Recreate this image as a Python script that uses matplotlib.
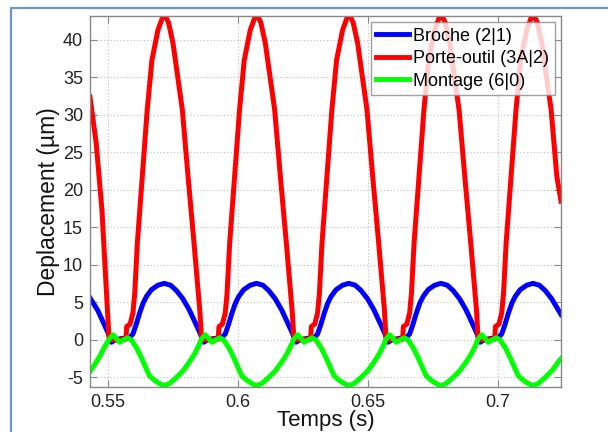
import matplotlib
matplotlib.use("Agg")
import matplotlib.pyplot as plt
from matplotlib.patches import Rectangle

# ---------------- data ----------------
t_broche = [0.5431, 0.5460, 0.5480, 0.5500,
            0.5513, 0.5528, 0.5553, 0.5583, 0.5596, 0.5608, 0.5622, 0.5635, 0.5648, 0.5667, 0.5692, 0.5716, 0.5741, 0.5763, 0.5788, 0.5813, 0.5833, 0.5853,
            0.5868, 0.5883, 0.5908, 0.5938, 0.5951, 0.5963, 0.5977, 0.5990, 0.6003, 0.6022, 0.6047, 0.6071, 0.6096, 0.6118, 0.6143, 0.6168, 0.6188, 0.6208,
            0.6223, 0.6238, 0.6263, 0.6293, 0.6306, 0.6318, 0.6332, 0.6345, 0.6358, 0.6377, 0.6402, 0.6426, 0.6451, 0.6473, 0.6498, 0.6523, 0.6543, 0.6563,
            0.6577, 0.6592, 0.6617, 0.6647, 0.6660, 0.6672, 0.6686, 0.6699, 0.6712, 0.6731, 0.6756, 0.6780, 0.6805, 0.6827, 0.6852, 0.6877, 0.6897, 0.6917,
            0.6931, 0.6946, 0.6971, 0.7001, 0.7014, 0.7026, 0.7040, 0.7053, 0.7066, 0.7085, 0.7110, 0.7134, 0.7159, 0.7181, 0.7206, 0.7242]
v_broche = [5.6, 4.0, 2.5, 1.0,
            -0.3, 0.0, 0.2, 0.3, 0.8, 2.0, 3.6, 4.9, 5.8, 6.7, 7.3, 7.55, 7.3, 6.6, 5.5, 4.0, 2.5, 1.0,
            -0.3, 0.0, 0.2, 0.3, 0.8, 2.0, 3.6, 4.9, 5.8, 6.7, 7.3, 7.55, 7.3, 6.6, 5.5, 4.0, 2.5, 1.0,
            -0.3, 0.0, 0.2, 0.3, 0.8, 2.0, 3.6, 4.9, 5.8, 6.7, 7.3, 7.55, 7.3, 6.6, 5.5, 4.0, 2.5, 1.0,
            -0.3, 0.0, 0.2, 0.3, 0.8, 2.0, 3.6, 4.9, 5.8, 6.7, 7.3, 7.55, 7.3, 6.6, 5.5, 4.0, 2.5, 1.0,
            -0.3, 0.0, 0.2, 0.3, 0.8, 2.0, 3.6, 4.9, 5.8, 6.7, 7.3, 7.55, 7.3, 6.6, 5.5, 3.4]

t_porte = [0.5431, 0.5455, 0.5477, 0.5491, 0.5504,
           0.5518, 0.5543, 0.5569, 0.5572, 0.5585, 0.5596, 0.5603, 0.5613, 0.5632, 0.5651, 0.5669, 0.5692, 0.5716, 0.5733, 0.5750, 0.5786, 0.5808, 0.5831, 0.5853,
           0.5860, 0.5873, 0.5898, 0.5924, 0.5927, 0.5940, 0.5951, 0.5958, 0.5968, 0.5987, 0.6006, 0.6024, 0.6047, 0.6071, 0.6088, 0.6105, 0.6141, 0.6163, 0.6186, 0.6208,
           0.6215, 0.6228, 0.6253, 0.6279, 0.6282, 0.6295, 0.6306, 0.6313, 0.6323, 0.6342, 0.6361, 0.6379, 0.6402, 0.6426, 0.6443, 0.6460, 0.6496, 0.6518, 0.6541, 0.6563,
           0.6569, 0.6582, 0.6607, 0.6633, 0.6636, 0.6649, 0.6660, 0.6667, 0.6677, 0.6696, 0.6715, 0.6733, 0.6756, 0.6780, 0.6797, 0.6814, 0.6850, 0.6872, 0.6895, 0.6917,
           0.6923, 0.6936, 0.6961, 0.6987, 0.6990, 0.7003, 0.7014, 0.7021, 0.7031, 0.7050, 0.7069, 0.7087, 0.7110, 0.7134, 0.7151, 0.7168, 0.7204, 0.7226, 0.7242]
v_porte = [32.4, 26.2, 17.3, 8.4, 0.3,
           0.0, 0.1, 0.1, 1.8, 2.1, 3.6, 6.2, 12.9, 21.8, 30.7, 37.3, 41.3, 43.6, 42.3, 39.6, 30.7, 21.8, 12.9, 4.0,
           0.3, 0.0, 0.1, 0.1, 1.8, 2.1, 3.6, 6.2, 12.9, 21.8, 30.7, 37.3, 41.3, 43.6, 42.3, 39.6, 30.7, 21.8, 12.9, 4.0,
           0.3, 0.0, 0.1, 0.1, 1.8, 2.1, 3.6, 6.2, 12.9, 21.8, 30.7, 37.3, 41.3, 43.6, 42.3, 39.6, 30.7, 21.8, 12.9, 4.0,
           0.3, 0.0, 0.1, 0.1, 1.8, 2.1, 3.6, 6.2, 12.9, 21.8, 30.7, 37.3, 41.3, 43.6, 42.3, 39.6, 30.7, 21.8, 12.9, 4.0,
           0.3, 0.0, 0.1, 0.1, 1.8, 2.1, 3.6, 6.2, 12.9, 21.8, 30.7, 37.3, 41.3, 43.6, 42.3, 39.6, 30.7, 21.8, 18.5]

t_montage = [0.5431, 0.5449, 0.5468, 0.5487, 0.5507,
             0.5519, 0.5532, 0.5545, 0.5559, 0.5575, 0.5590, 0.5609, 0.5628, 0.5648, 0.5660, 0.5680, 0.5698, 0.5716, 0.5737, 0.5763, 0.5789, 0.5814, 0.5834, 0.5851, 0.5859,
             0.5874, 0.5887, 0.5900, 0.5914, 0.5930, 0.5945, 0.5964, 0.5983, 0.6003, 0.6015, 0.6035, 0.6053, 0.6071, 0.6092, 0.6118, 0.6144, 0.6169, 0.6189, 0.6206, 0.6214,
             0.6229, 0.6242, 0.6255, 0.6269, 0.6285, 0.6300, 0.6319, 0.6338, 0.6358, 0.6370, 0.6390, 0.6408, 0.6426, 0.6447, 0.6473, 0.6499, 0.6524, 0.6544, 0.6561, 0.6569,
             0.6583, 0.6596, 0.6609, 0.6623, 0.6639, 0.6654, 0.6673, 0.6692, 0.6712, 0.6724, 0.6744, 0.6762, 0.6780, 0.6801, 0.6827, 0.6853, 0.6878, 0.6898, 0.6915, 0.6923,
             0.6937, 0.6950, 0.6963, 0.6977, 0.6993, 0.7008, 0.7027, 0.7046, 0.7066, 0.7078, 0.7098, 0.7116, 0.7134, 0.7155, 0.7181, 0.7207, 0.7232, 0.7242]
v_montage = [-4.2, -3.3, -2.2, -0.9, 0.2,
             0.7, 0.2, -0.3, 0.0, 0.3, 0.0, -1.0, -2.3, -3.9, -4.8, -5.4, -5.8, -6.1, -5.8, -5.0, -4.1, -2.9, -1.8, -0.6, 0.1,
             0.7, 0.2, -0.3, 0.0, 0.3, 0.0, -1.0, -2.3, -3.9, -4.8, -5.4, -5.8, -6.1, -5.8, -5.0, -4.1, -2.9, -1.8, -0.6, 0.1,
             0.7, 0.2, -0.3, 0.0, 0.3, 0.0, -1.0, -2.3, -3.9, -4.8, -5.4, -5.8, -6.1, -5.8, -5.0, -4.1, -2.9, -1.8, -0.6, 0.1,
             0.7, 0.2, -0.3, 0.0, 0.3, 0.0, -1.0, -2.3, -3.9, -4.8, -5.4, -5.8, -6.1, -5.8, -5.0, -4.1, -2.9, -1.8, -0.6, 0.1,
             0.7, 0.2, -0.3, 0.0, 0.3, 0.0, -1.0, -2.3, -3.9, -4.8, -5.4, -5.8, -6.1, -5.8, -5.0, -4.1, -2.9, -2.5]

series_labels = ["Broche (2|1)", "Porte-outil (3A|2)", "Montage (6|0)"]
x_ticks = [0.55, 0.6, 0.65, 0.7]
x_tick_labels = ["0.55", "0.6", "0.65", "0.7"]
y_ticks = [-5, 0, 5, 10, 15, 20, 25, 30, 35, 40]
x_label = "Temps (s)"
y_label = "Deplacement (µm)"

# ---------------- figure ----------------
plt.rcParams['font.family'] = ['Liberation Sans', 'DejaVu Sans']
plt.rcParams['axes.unicode_minus'] = False
fig = plt.figure(figsize=(6.08, 4.32), dpi=100)
fig.patch.set_facecolor('white')

# light blue frame of the screenshot
fig.add_artist(Rectangle((11 / 608, -0.1), 2.0, 1.1 - 8 / 432, transform=fig.transFigure,
                         fill=False, edgecolor='#6b95cc', linewidth=1.6, clip_on=False))

ax = fig.add_axes([90 / 608, 1 - 387 / 432, (561 - 90) / 608, (387 - 16) / 432])
lw = 3.6
ax.plot(t_broche, v_broche, color=(0, 0, 1), lw=lw, label=series_labels[0], solid_joinstyle='round')
ax.plot(t_porte, v_porte, color=(1, 0, 0), lw=lw, label=series_labels[1], solid_joinstyle='round')
ax.plot(t_montage, v_montage, color=(0, 1, 0), lw=lw, label=series_labels[2], solid_joinstyle='round')

ax.set_xlim(0.5431, 0.7242)
ax.set_ylim(-6.27, 43.2)
ax.set_xticks(x_ticks)
ax.set_xticklabels(x_tick_labels)
ax.set_yticks(y_ticks)
ax.grid(True, color='#bdbdbd', linestyle=(0, (1, 2)), linewidth=0.8)
ax.tick_params(direction='in', length=5, width=0.8, colors='#888888', labelcolor='#222222',
               labelsize=13, top=True, right=True, pad=5)
for s in ax.spines.values():
    s.set_color('#888888')
    s.set_linewidth(1.0)

ax.set_xlabel(x_label, fontsize=16, color='#111111', labelpad=-1)
ax.set_ylabel(y_label, fontsize=16.5, color='#111111', labelpad=2)

leg = ax.legend(loc='upper right', fontsize=13, frameon=True, fancybox=False,
                edgecolor='#888888', handlelength=1.8, handletextpad=0.25,
                borderpad=0.3, labelspacing=0.3, borderaxespad=0.35)
leg.get_frame().set_linewidth(1.0)
for line in leg.get_lines():
    line.set_linewidth(3.5)

fig.savefig('out.png', dpi=100)
